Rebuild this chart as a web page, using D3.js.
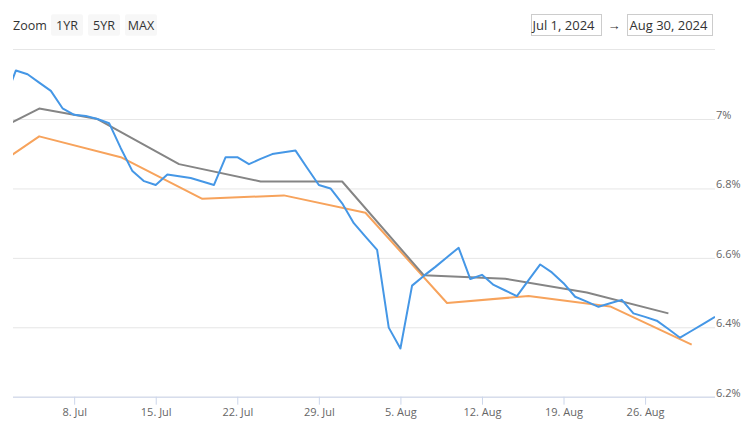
<!DOCTYPE html>
<html>
<head>
<meta charset="utf-8">
<script src="https://cdn.jsdelivr.net/npm/d3@7"></script>
<style>
  html, body { margin: 0; padding: 0; background: #fff; }
  svg { display: block; }
  text { font-family: "Open Sans", "Noto Sans", sans-serif; }
</style>
</head>
<body>
<svg id="chart" width="752" height="427"></svg>
<script>
// ---------- data ----------
const blueStart = "2024-07-02";
const blueValues = [7.051, 7.140, 7.129, 7.105, 7.081, 7.031, 7.012, 7.009, 7.000, 6.988,
  6.916, 6.850, 6.821, 6.810, 6.840, 6.835, 6.830, 6.820, 6.810, 6.890,
  6.890, 6.870, 6.885, 6.899, 6.904, 6.909, 6.859, 6.810, 6.800, 6.757,
  6.700, 6.661, 6.623, 6.399, 6.339, 6.520, 6.548, 6.574, 6.602, 6.629,
  6.539, 6.551, 6.522, 6.506, 6.490, 6.536, 6.581, 6.558, 6.527, 6.488,
  6.474, 6.459, 6.469, 6.479, 6.440, 6.430, 6.419, 6.395, 6.370, 6.390,
  6.410, 6.430];

const orangeDates = ["2024-06-28", "2024-07-05", "2024-07-12", "2024-07-19", "2024-07-26",
  "2024-08-02", "2024-08-09", "2024-08-16", "2024-08-23", "2024-08-30"];
const orangeValues = [6.79, 6.95, 6.89, 6.77, 6.78, 6.73, 6.47, 6.49, 6.46, 6.35];

const grayDates = ["2024-06-28", "2024-07-05", "2024-07-10", "2024-07-17", "2024-07-24",
  "2024-07-31", "2024-08-07", "2024-08-14", "2024-08-21", "2024-08-28"];
const grayValues = [6.91, 7.03, 7.00, 6.87, 6.82, 6.82, 6.55, 6.54, 6.50, 6.44];

const yTickValues = [6.2, 6.4, 6.6, 6.8, 7.0];
const yTickLabels = ["6.2%", "6.4%", "6.6%", "6.8%", "7%"];

const xTickDates = ["2024-07-08", "2024-07-15", "2024-07-22", "2024-07-29",
  "2024-08-05", "2024-08-12", "2024-08-19", "2024-08-26"];
const xTickLabels = ["8. Jul", "15. Jul", "22. Jul", "29. Jul", "5. Aug", "12. Aug", "19. Aug", "26. Aug"];

const zoomButtons = ["1YR", "5YR", "MAX"];
const rangeFrom = "Jul 1, 2024";
const rangeTo = "Aug 30, 2024";

// ---------- setup ----------
(function () {
const parse = d3.timeParse("%Y-%m-%d");
const b0 = parse(blueStart);
const blue = blueValues.map((v, i) => ({ d: d3.timeDay.offset(b0, i), v }));
const orange = orangeDates.map((d, i) => ({ d: parse(d), v: orangeValues[i] }));
const gray = grayDates.map((d, i) => ({ d: parse(d), v: grayValues[i] }));

const svg = d3.select("#chart");
const pLeft = 13, pRight = 715, pTop = 49.6, pBottom = 396.7;

const x = d3.scaleTime()
  .domain([new Date(2024, 6, 2, 18), new Date(2024, 8, 1)])
  .range([pLeft, pRight]);
const y = d3.scaleLinear().domain([6.2, 7.2]).range([pBottom, pTop]);

// top separator
svg.append("line").attr("x1", pLeft).attr("x2", pRight).attr("y1", 49.5).attr("y2", 49.5)
  .attr("stroke", "#e6e6e6").attr("stroke-width", 1);

// y grid + labels
const yAxis = d3.axisRight(y)
  .tickValues(yTickValues)
  .tickSize(-(pRight - pLeft))
  .tickPadding(2)
  .tickFormat((d, i) => yTickLabels[i]);
const gy = svg.append("g").attr("transform", `translate(${pRight},0)`).call(yAxis);
gy.select(".domain").remove();
gy.selectAll(".tick line").attr("stroke", "#e6e6e6");
gy.selectAll(".tick text")
  .attr("fill", "#666").attr("font-size", "11px")
  .attr("dy", "-0.05em")
  .attr("y", 0).attr("x", 1);

// x axis
const xAxis = d3.axisBottom(x)
  .tickValues(xTickDates.map(parse))
  .tickSize(8)
  .tickPadding(4)
  .tickFormat((d, i) => xTickLabels[i]);
const gx = svg.append("g").attr("transform", `translate(0,${pBottom})`).call(xAxis);
gx.select(".domain").attr("stroke", "#ccd6eb").attr("d", `M${pLeft},0.5H${pRight}`);
gx.selectAll(".tick line").attr("stroke", "#ccd6eb");
gx.selectAll(".tick text").attr("fill", "#666").attr("font-size", "11px");

// clip
svg.append("clipPath").attr("id", "plotclip")
  .append("rect").attr("x", pLeft).attr("y", pTop).attr("width", pRight - pLeft).attr("height", pBottom - pTop + 10);

const line = d3.line().x(d => x(d.d)).y(d => y(d.v));
const plot = svg.append("g").attr("clip-path", "url(#plotclip)");
plot.append("path").datum(orange).attr("d", line)
  .attr("fill", "none").attr("stroke", "#f7a35c").attr("stroke-width", 2).attr("stroke-linejoin", "round");
plot.append("path").datum(gray).attr("d", line)
  .attr("fill", "none").attr("stroke", "#858585").attr("stroke-width", 2).attr("stroke-linejoin", "round");
plot.append("path").datum(blue).attr("d", line)
  .attr("fill", "none").attr("stroke", "#4597e6").attr("stroke-width", 2).attr("stroke-linejoin", "round");

// ---------- range selector ----------
svg.append("text").attr("x", 13).attr("y", 29.5).attr("fill", "#333").attr("font-size", "12.5px").text("Zoom");
const btnX = [51, 88, 125];
zoomButtons.forEach((b, i) => {
  const g = svg.append("g");
  g.append("rect").attr("x", btnX[i]).attr("y", 14.3).attr("width", 32).attr("height", 21.4)
    .attr("rx", 2).attr("fill", "#f7f7f7");
  g.append("text").attr("x", btnX[i] + 16).attr("y", 29.5).attr("text-anchor", "middle")
    .attr("fill", "#333").attr("font-size", "12.5px").text(b);
});

svg.append("rect").attr("x", 531.5).attr("y", 14.5).attr("width", 70).attr("height", 21)
  .attr("fill", "#fff").attr("stroke", "#cccccc");
svg.append("text").attr("x", 532.5).attr("y", 29.5).attr("fill", "#333").attr("font-size", "13px").text(rangeFrom);
svg.append("text").attr("x", 614).attr("y", 29.5).attr("text-anchor", "middle").attr("fill", "#333").attr("font-size", "13px").text("→");
svg.append("rect").attr("x", 627.5).attr("y", 14.5).attr("width", 85).attr("height", 21)
  .attr("fill", "#fff").attr("stroke", "#cccccc");
svg.append("text").attr("x", 629.5).attr("y", 29.5).attr("fill", "#333").attr("font-size", "13px").text(rangeTo);
})();
</script>
</body>
</html>
